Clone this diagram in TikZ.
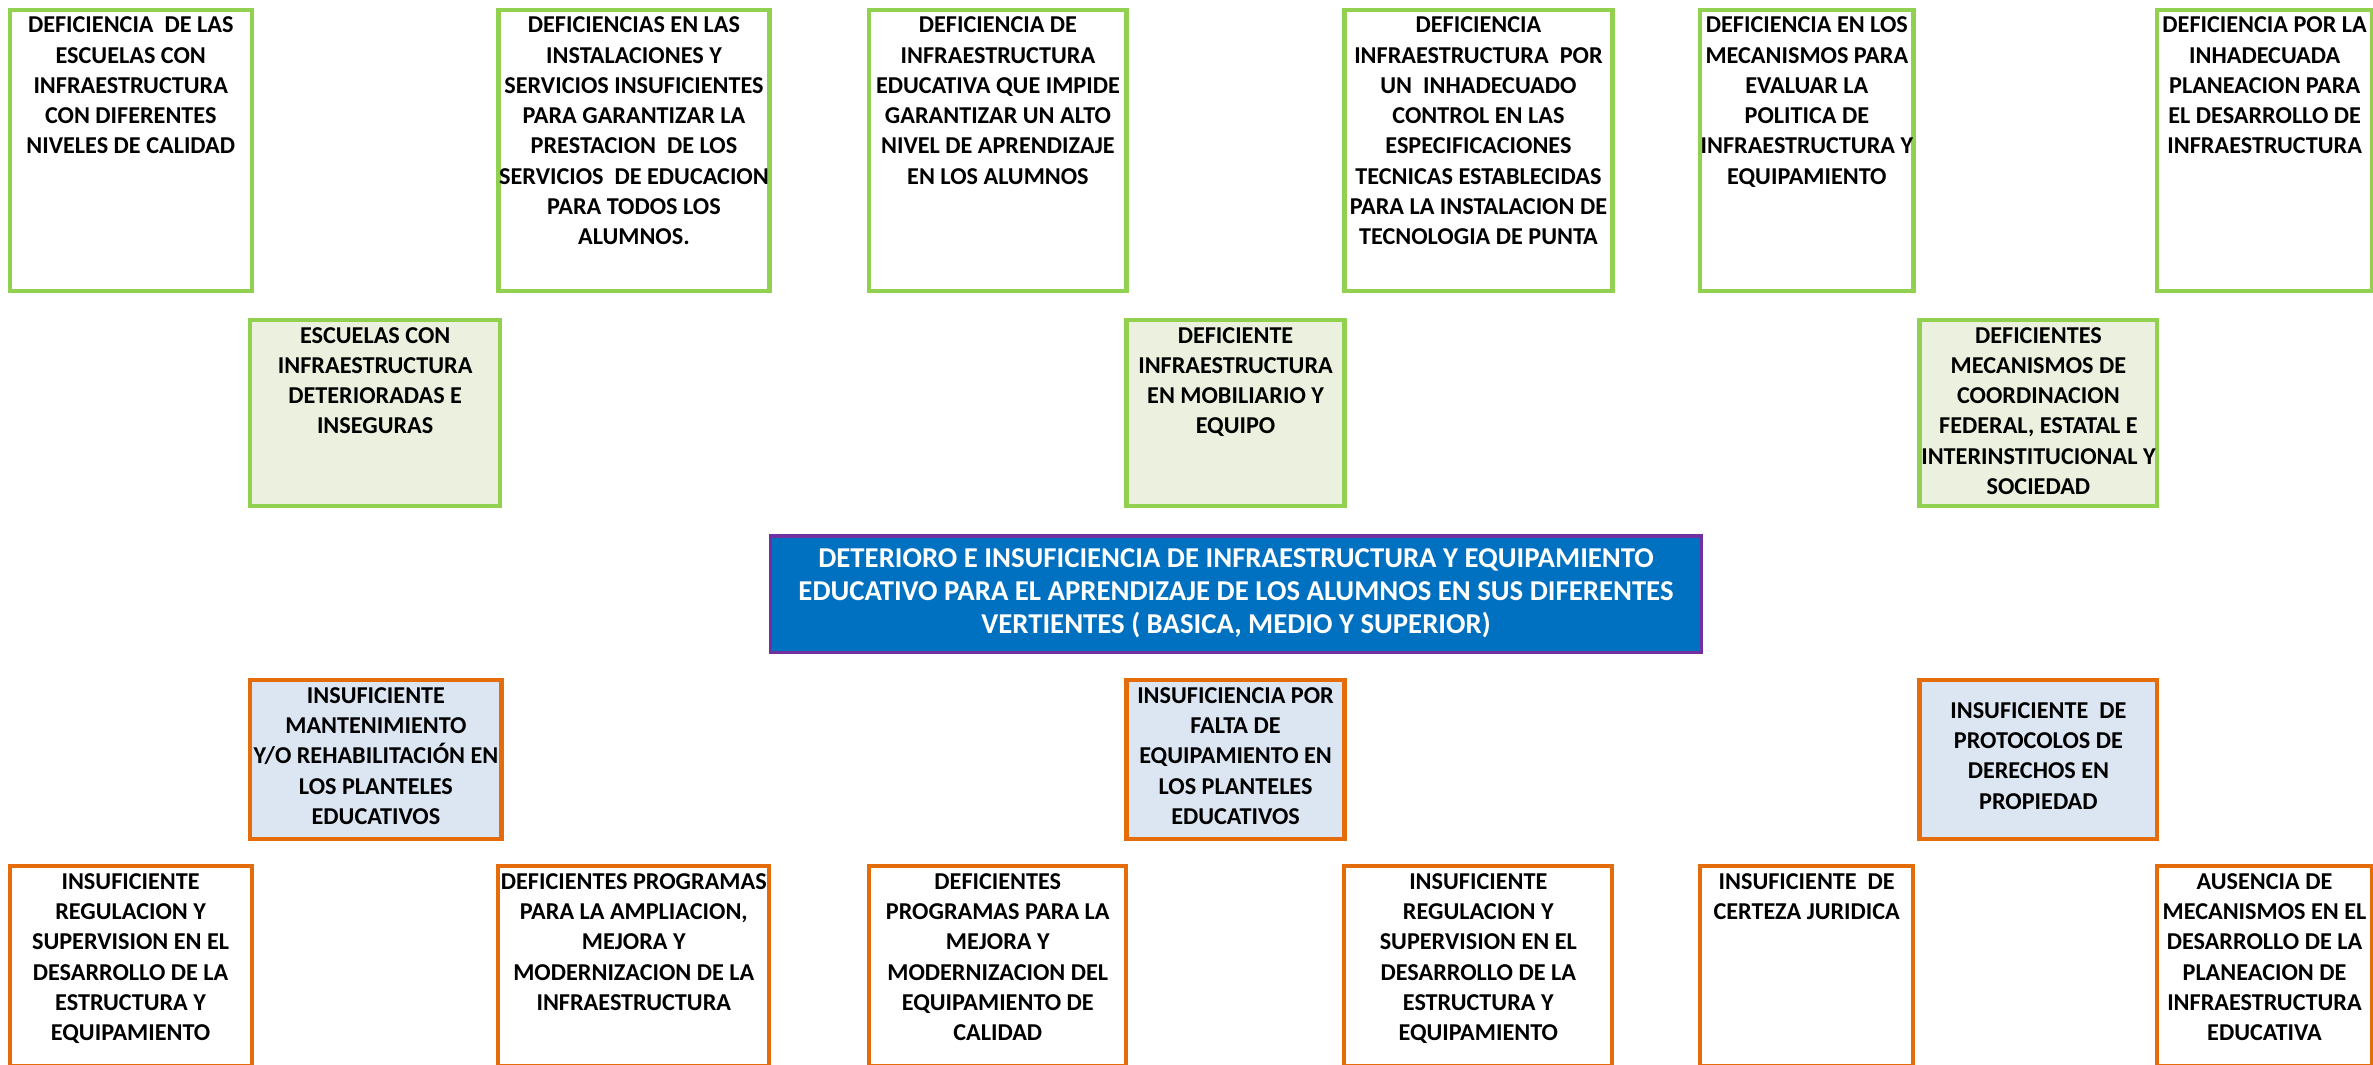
\documentclass[tikz,border=0pt]{standalone}
\usepackage{fontspec}
\setmainfont{Carlito}
\definecolor{grn}{HTML}{92D050}
\definecolor{grnfill}{HTML}{EBF1DE}
\definecolor{org}{HTML}{E46C0A}
\definecolor{bluefill}{HTML}{DCE6F2}
\definecolor{mainblue}{HTML}{0070C0}
\definecolor{purp}{HTML}{7030A0}
\tikzset{
  gbox/.style={draw=grn, line width=2.8pt, fill=white},
  gfbox/.style={draw=grn, line width=2.8pt, fill=grnfill},
  obox/.style={draw=org, line width=2.6pt, fill=white},
  obfbox/.style={draw=org, line width=2.8pt, fill=bluefill},
  mainbox/.style={draw=purp, line width=2.4pt, fill=mainblue},
  txt/.style={font=\bfseries\fontsize{16}{20}\selectfont, align=center, inner sep=0pt, text=black},
  maintxt/.style={font=\bfseries\fontsize{19}{22}\selectfont, align=center, inner sep=0pt, text=white},
}
\newcommand{\mkbox}[9]{%
  \node[#2, minimum width={(#5-#3)*1pt}, minimum height={(#6-#4)*1pt}, inner sep=0pt, anchor=north west] (#1) at (#3,#4) {};
  \node[#9, anchor=north] (#1t) at ([yshift=-#7pt]#1.north) {#8};
}
\begin{document}
\begin{tikzpicture}[x=1pt,y=-1pt]
\useasboundingbox (0,0) rectangle (1568,703.7);
% top row
\mkbox{t1}{gbox}{5}{5}{165}{191}{6}{DEFICIENCIA\ \ DE LAS\\ESCUELAS CON\\INFRAESTRUCTURA\\CON DIFERENTES\\NIVELES DE CALIDAD}{txt}
\mkbox{t2}{gbox}{328}{5}{507}{191}{6}{DEFICIENCIAS EN LAS\\INSTALACIONES Y\\SERVICIOS INSUFICIENTES\\PARA GARANTIZAR LA\\PRESTACION\ \ DE LOS\\SERVICIOS\ \ DE EDUCACION\\PARA TODOS LOS\\ALUMNOS.}{txt}
\mkbox{t3}{gbox}{573}{5}{743}{191}{6}{DEFICIENCIA DE\\INFRAESTRUCTURA\\EDUCATIVA QUE IMPIDE\\GARANTIZAR UN ALTO\\NIVEL DE APRENDIZAJE\\EN LOS ALUMNOS}{txt}
\mkbox{t4}{gbox}{887}{5}{1064}{191}{6}{DEFICIENCIA\\INFRAESTRUCTURA\ \ POR\\UN\ \ INHADECUADO\\CONTROL EN LAS\\ESPECIFICACIONES\\TECNICAS ESTABLECIDAS\\PARA LA INSTALACION DE\\TECNOLOGIA DE PUNTA}{txt}
\mkbox{t5}{gbox}{1122}{5}{1263}{191}{6}{DEFICIENCIA EN LOS\\MECANISMOS PARA\\EVALUAR LA\\POLITICA DE\\INFRAESTRUCTURA Y\\EQUIPAMIENTO}{txt}
\mkbox{t6}{gbox}{1424}{5}{1566}{191}{6}{DEFICIENCIA POR LA\\INHADECUADA\\PLANEACION PARA\\EL DESARROLLO DE\\INFRAESTRUCTURA}{txt}
% second row
\mkbox{m1}{gfbox}{164}{210}{329}{333}{6}{ESCUELAS CON\\INFRAESTRUCTURA\\DETERIORADAS E\\INSEGURAS}{txt}
\mkbox{m2}{gfbox}{743}{210}{887}{333}{6}{DEFICIENTE\\INFRAESTRUCTURA\\EN MOBILIARIO Y\\EQUIPO}{txt}
\mkbox{m3}{gfbox}{1267}{210}{1424}{333}{6}{DEFICIENTES\\MECANISMOS DE\\COORDINACION\\FEDERAL, ESTATAL E\\INTERINSTITUCIONAL Y\\SOCIEDAD}{txt}
% center
\mkbox{c}{mainbox}{508}{353}{1123}{430}{9}{DETERIORO E INSUFICIENCIA DE INFRAESTRUCTURA Y EQUIPAMIENTO\\EDUCATIVO PARA EL APRENDIZAJE DE LOS ALUMNOS EN SUS DIFERENTES\\VERTIENTES ( BASICA, MEDIO Y SUPERIOR)}{maintxt}
% third row
\mkbox{l1}{obfbox}{164}{448}{330}{553}{6}{INSUFICIENTE\\MANTENIMIENTO\\Y/O REHABILITACIÓN EN\\LOS PLANTELES\\EDUCATIVOS}{txt}
\mkbox{l2}{obfbox}{743}{448}{887}{553}{6}{INSUFICIENCIA POR\\FALTA DE\\EQUIPAMIENTO EN\\LOS PLANTELES\\EDUCATIVOS}{txt}
\mkbox{l3}{obfbox}{1267}{448}{1424}{553}{16}{INSUFICIENTE\ \ DE\\PROTOCOLOS DE\\DERECHOS EN\\PROPIEDAD}{txt}
% bottom row
\mkbox{b1}{obox}{5}{571}{165}{703}{6}{INSUFICIENTE\\REGULACION Y\\SUPERVISION EN EL\\DESARROLLO DE LA\\ESTRUCTURA Y\\EQUIPAMIENTO}{txt}
\mkbox{b2}{obox}{328}{571}{507}{703}{6}{DEFICIENTES PROGRAMAS\\PARA LA AMPLIACION,\\MEJORA Y\\MODERNIZACION DE LA\\INFRAESTRUCTURA}{txt}
\mkbox{b3}{obox}{573}{571}{743}{703}{6}{DEFICIENTES\\PROGRAMAS PARA LA\\MEJORA Y\\MODERNIZACION DEL\\EQUIPAMIENTO DE\\CALIDAD}{txt}
\mkbox{b4}{obox}{887}{571}{1064}{703}{6}{INSUFICIENTE\\REGULACION Y\\SUPERVISION EN EL\\DESARROLLO DE LA\\ESTRUCTURA Y\\EQUIPAMIENTO}{txt}
\mkbox{b5}{obox}{1122}{571}{1263}{703}{6}{INSUFICIENTE\ \ DE\\CERTEZA JURIDICA}{txt}
\mkbox{b6}{obox}{1424}{571}{1566}{703}{6}{AUSENCIA DE\\MECANISMOS EN EL\\DESARROLLO DE LA\\PLANEACION DE\\INFRAESTRUCTURA\\EDUCATIVA}{txt}
\end{tikzpicture}
\end{document}
